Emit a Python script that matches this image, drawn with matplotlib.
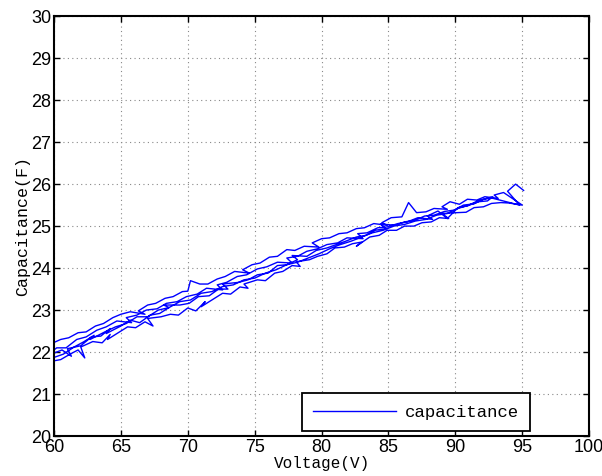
import matplotlib
matplotlib.use('Agg')
import matplotlib.pyplot as plt
import numpy as np

# ---- data: (voltage, capacitance) sweeps ----
sweep_up1 = [(59.8, 21.78), (60.5, 21.82), (61.2, 21.95), (61.8, 22.05), (62.3, 21.86), (62.0, 22.12),
             (62.9, 22.25), (63.6, 22.22), (64.2, 22.42), (64.0, 22.30), (64.9, 22.48), (65.5, 22.60),
             (66.1, 22.58), (66.8, 22.72), (67.4, 22.62), (67.0, 22.80), (68.0, 22.84), (68.7, 22.90),
             (69.3, 22.88), (70.0, 23.05), (70.6, 22.98), (71.3, 23.20), (71.0, 23.08), (71.9, 23.26),
             (72.6, 23.40), (73.2, 23.38), (73.9, 23.55), (74.5, 23.52), (74.2, 23.62), (75.2, 23.72),
             (75.8, 23.70), (76.5, 23.88), (77.1, 23.92), (77.8, 24.06), (78.4, 24.04), (78.1, 24.15),
             (79.1, 24.20), (79.7, 24.28), (80.4, 24.34), (81.0, 24.48), (81.7, 24.50), (82.3, 24.58),
             (83.0, 24.62), (82.6, 24.52), (83.6, 24.74), (84.3, 24.78), (84.9, 24.90), (85.6, 24.90),
             (86.2, 25.00), (86.9, 25.00), (87.5, 25.08), (88.2, 25.10), (88.8, 25.20), (89.5, 25.18),
             (89.0, 25.30), (90.1, 25.32), (90.8, 25.33), (91.4, 25.44), (92.1, 25.46), (92.7, 25.54),
             (93.4, 25.56), (94.0, 25.55), (94.6, 25.52), (95.0, 25.50)]

sweep_dn1 = [(93.6, 25.80), (92.9, 25.74), (93.2, 25.66), (92.2, 25.70), (91.6, 25.62), (90.9, 25.64),
             (90.3, 25.52), (89.6, 25.58), (89.0, 25.46), (89.4, 25.40), (88.4, 25.42), (87.8, 25.34),
             (87.1, 25.32), (86.5, 25.56), (86.0, 25.22), (85.2, 25.20), (84.5, 25.08), (84.9, 25.02),
             (83.9, 25.06), (83.2, 24.96), (82.6, 24.94), (81.9, 24.84), (81.3, 24.82), (80.6, 24.72),
             (80.0, 24.70), (79.3, 24.60), (79.8, 24.50), (78.7, 24.52), (78.0, 24.42), (77.4, 24.44),
             (76.7, 24.28), (76.1, 24.26), (75.4, 24.12), (74.8, 24.08), (74.1, 23.96), (74.6, 23.88),
             (73.5, 23.92), (72.8, 23.80), (72.2, 23.74), (71.5, 23.62), (70.9, 23.62), (70.2, 23.70),
             (70.0, 23.45), (69.6, 23.44), (68.9, 23.32), (68.3, 23.28), (67.6, 23.16), (67.0, 23.12),
             (66.3, 22.98), (66.8, 22.90), (65.7, 22.96), (65.0, 22.90), (64.4, 22.82), (63.7, 22.68),
             (63.1, 22.62), (62.4, 22.48), (61.8, 22.46), (61.1, 22.34), (60.5, 22.30), (59.8, 22.20)]

sweep_up2 = [(59.8, 21.95), (60.6, 22.05), (61.3, 21.90), (61.0, 22.08), (62.0, 22.15), (62.8, 22.36),
             (63.5, 22.38), (64.2, 22.56), (63.9, 22.44), (65.0, 22.62), (65.7, 22.76), (66.4, 22.70),
             (67.2, 22.88), (67.9, 22.92), (68.6, 23.06), (68.2, 23.12), (69.4, 23.12), (70.1, 23.16),
             (70.8, 23.32), (71.6, 23.34), (72.3, 23.50), (73.0, 23.50), (72.6, 23.62), (73.8, 23.66),
             (74.5, 23.72), (75.2, 23.84), (76.0, 23.88), (76.7, 24.06), (77.4, 24.08), (78.2, 24.20),
             (77.8, 24.30), (78.9, 24.28), (79.6, 24.42), (80.4, 24.48), (81.1, 24.56), (81.8, 24.64),
             (82.6, 24.74), (83.3, 24.78), (84.0, 24.90), (84.8, 24.94), (84.4, 25.05), (85.5, 25.02),
             (86.2, 25.10), (87.0, 25.14), (87.7, 25.24), (88.4, 25.26), (89.2, 25.35), (89.9, 25.38),
             (90.6, 25.50), (91.4, 25.53), (92.1, 25.64), (92.8, 25.70)]

sweep_dn2 = [(92.4, 25.60), (91.7, 25.58), (90.9, 25.48), (90.2, 25.44), (89.4, 25.18), (88.7, 25.36),
             (87.9, 25.24), (88.3, 25.16), (87.2, 25.20), (86.4, 25.10), (85.7, 25.06), (84.9, 24.98),
             (84.2, 24.96), (83.4, 24.84), (82.7, 24.82), (83.1, 24.70), (81.9, 24.72), (81.2, 24.60),
             (80.4, 24.56), (79.7, 24.46), (78.9, 24.40), (78.2, 24.28), (77.4, 24.24), (77.8, 24.12),
             (76.7, 24.14), (75.9, 24.03), (75.2, 23.98), (74.4, 23.84), (73.7, 23.80), (72.9, 23.66),
             (72.2, 23.60), (72.6, 23.48), (71.4, 23.52), (70.7, 23.38), (69.9, 23.32), (69.2, 23.20),
             (68.4, 23.16), (67.7, 23.03), (66.9, 23.00), (66.2, 22.88), (65.4, 22.82), (65.8, 22.70),
             (64.7, 22.74), (63.9, 22.60), (63.2, 22.52), (62.4, 22.36), (61.7, 22.30), (60.9, 22.10),
             (60.2, 22.10), (59.8, 22.00)]

sweep_up3 = [(59.8, 21.85), (60.7, 21.95), (61.5, 22.12), (62.2, 22.24), (63.0, 22.40), (62.7, 22.30),
             (63.8, 22.48), (64.6, 22.60), (65.4, 22.68), (66.2, 22.84), (67.0, 22.84), (67.8, 23.00),
             (68.6, 23.06), (69.4, 23.20), (70.2, 23.24), (71.0, 23.40), (71.8, 23.44), (72.6, 23.56),
             (73.4, 23.60), (74.2, 23.72), (75.0, 23.76), (75.8, 23.88), (76.6, 23.96), (77.4, 24.08),
             (78.2, 24.14), (79.0, 24.24), (79.8, 24.34), (80.6, 24.46), (81.4, 24.56), (82.2, 24.64),
             (83.0, 24.74), (83.8, 24.84), (84.6, 24.90), (85.4, 25.00), (86.2, 25.04), (87.0, 25.12),
             (87.8, 25.16), (88.6, 25.26), (89.4, 25.30), (90.2, 25.42), (91.0, 25.50), (91.8, 25.62),
             (92.7, 25.67), (94.8, 25.50), (93.9, 25.83), (94.5, 26.00), (95.1, 25.85)]

x_ticks = [60, 65, 70, 75, 80, 85, 90, 95, 100]
y_ticks = [20, 21, 22, 23, 24, 25, 26, 27, 28, 29, 30]

pts = np.array(sweep_up1 + sweep_dn1 + sweep_up2 + sweep_dn2 + sweep_up3)
voltage, capacitance = pts[:, 0], pts[:, 1]

fig = plt.figure(figsize=(6.02, 4.76), dpi=100)
ax = fig.add_axes([0.0897, 0.084, 0.889, 0.882])

ax.plot(voltage, capacitance, color='#0000ff', linewidth=1.0, label='capacitance')

ax.set_xlim(60, 100)
ax.set_ylim(20, 30)
ax.set_xticks(x_ticks)
ax.set_yticks(y_ticks)

for lbl in ax.get_xticklabels() + ax.get_yticklabels():
    lbl.set_family(['Liberation Sans', 'DejaVu Sans'])
    lbl.set_fontsize(13)

ax.tick_params(direction='in', top=True, right=True, length=4, width=1, pad=2)
ax.grid(True, color='#888888', linestyle=(0, (1, 3)), linewidth=0.8)
for sp in ax.spines.values():
    sp.set_linewidth(1.5)

mono = ['Liberation Mono', 'DejaVu Sans Mono']
ax.set_xlabel('Voltage(V)', family=mono, fontsize=11.5, labelpad=0)
ax.set_ylabel('Capacitance(F)', family=mono, fontsize=12, labelpad=1)

leg = ax.legend(loc='lower right', bbox_to_anchor=(0.89, 0.012), borderaxespad=0,
                prop={'family': mono, 'size': 12.5},
                fancybox=False, framealpha=1, edgecolor='black',
                handlelength=4.8, borderpad=0.65, handletextpad=0.5)
leg.get_frame().set_linewidth(1.3)

fig.savefig('out.png', dpi=100)
